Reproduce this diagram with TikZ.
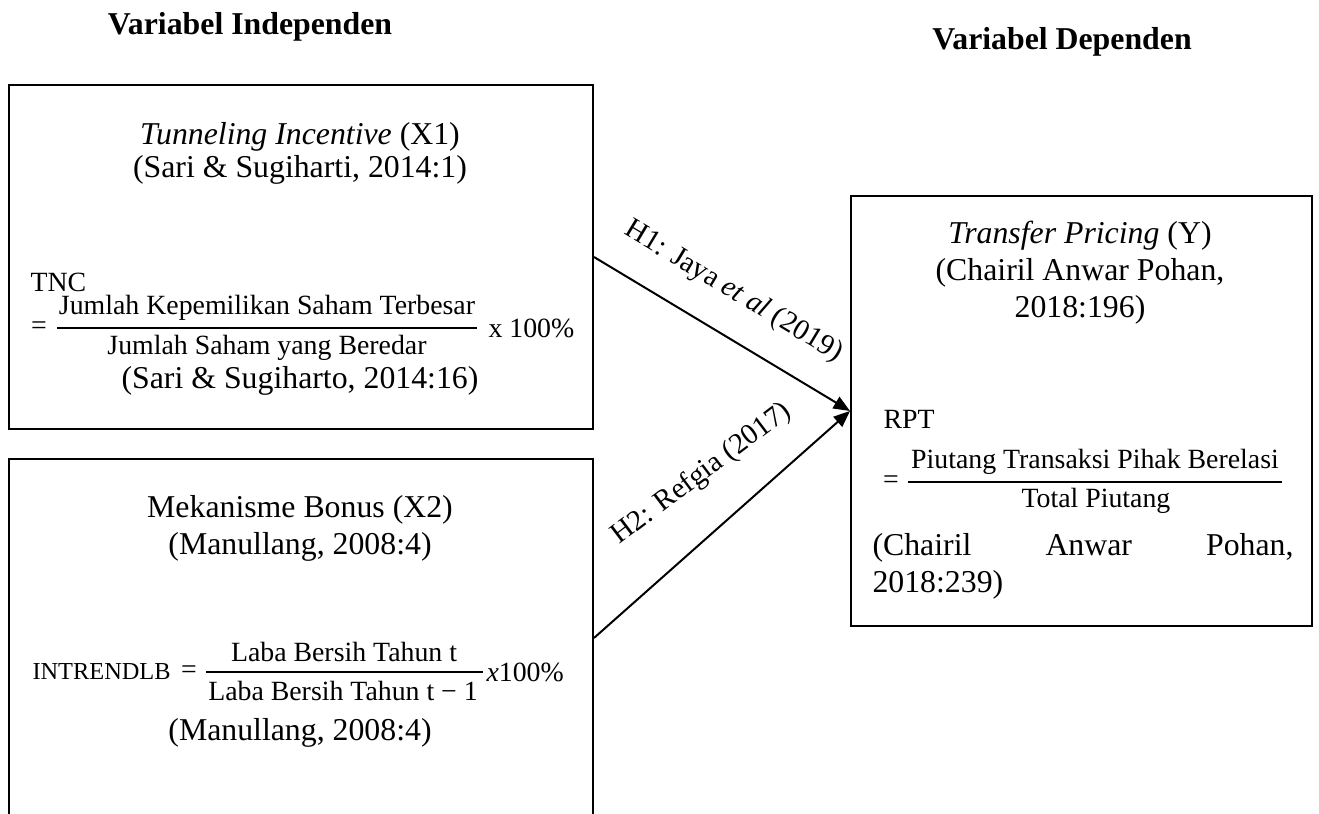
\documentclass[tikz,border=0pt]{standalone}
\usepackage{fontspec}
\setmainfont{Liberation Serif}
\usetikzlibrary{arrows.meta}
\begin{document}
\begin{tikzpicture}[x=0.3774pt,y=-0.3774pt,
  box/.style={draw, line width=0.75pt, inner sep=0pt, anchor=north west},
  txt/.style={inner sep=0pt, font=\fontsize{12}{13.8}\selectfont},
  eqt/.style={inner sep=0pt, font=\fontsize{10.5}{12.6}\selectfont},
  head/.style={inner sep=0pt, font=\fontsize{12}{13.8}\selectfont\bfseries},
  fracbar/.style={line width=0.7pt},
  hyp/.style={line width=0.75pt, -{Triangle[length=6.2pt,width=5pt]}},
  lab/.style={inner sep=0pt, font=\fontsize{11}{13}\selectfont}]
\useasboundingbox (0,0) rectangle (1319,814);
\clip (0,0) rectangle (1319,814);

% headers
\node[head] (hind) at (250,27) {Variabel Independen};
\node[head] (hdep) at (1062,42) {Variabel Dependen};

% boxes
\node[box, minimum width=584*0.3774pt, minimum height=344*0.3774pt] (b1) at (8,84) {};
\node[box, minimum width=584*0.3774pt, minimum height=358*0.3774pt] (b2) at (8,458) {};
\node[box, minimum width=461*0.3774pt, minimum height=430*0.3774pt] (b3) at (850,195) {};

% box 1 content
\node[txt] (t1a) at (300,137) {\textit{Tunneling Incentive} (X1)};
\node[txt] (t1b) at (300,170) {(Sari \& Sugiharti, 2014:1)};
\node[eqt, anchor=west] (tnc) at (30,282) {TNC};
\node[eqt] (eq1) at (39,328) {=};
\node[eqt] (n1) at (267,308) {Jumlah Kepemilikan Saham Terbesar};
\draw[fracbar] (57,328) -- (477,328);
\node[eqt] (d1) at (267,348) {Jumlah Saham yang Beredar};
\node[eqt, anchor=west] (p1) at (488,328) {x 100\%};
\node[txt] (t1c) at (300,381) {(Sari \& Sugiharto, 2014:16)};

% box 2 content
\node[eqt, anchor=west, font=\fontsize{9.2}{11}\selectfont] (intr) at (32,672) {INTRENDLB};
\node[eqt] (eq2) at (189,672) {=};
\node[txt] (t2a) at (300,510) {Mekanisme Bonus (X2)};
\node[txt] (t2b) at (300,547) {(Manullang, 2008:4)};
\node[eqt] (n2) at (344,652) {Laba Bersih Tahun t};
\draw[fracbar] (206,672) -- (483,672);
\node[eqt] (d2) at (343,691) {Laba Bersih Tahun t − 1};
\node[eqt, anchor=west] (p2) at (486,672) {\textit{x}100\%};
\node[txt] (t2c) at (300,733) {(Manullang, 2008:4)};

% box 3 content
\node[txt] (t3a) at (1080,236) {\textit{Transfer Pricing} (Y)};
\node[txt] (t3b) at (1080,273) {(Chairil Anwar Pohan,};
\node[txt] (t3c) at (1080,310) {2018:196)};
\node[eqt, anchor=west] (rpt) at (883,419) {RPT};
\node[eqt] (eq3) at (891,482) {=};
\node[eqt] (n3) at (1095,462) {Piutang Transaksi Pihak Berelasi};
\draw[fracbar] (908,482) -- (1282,482);
\node[eqt] (d3) at (1096,501) {Total Piutang};
\node[txt, anchor=west, text width=421*0.3774pt] (t3d) at (872,548) {(Chairil\hfill Anwar\hfill Pohan,};
\node[txt, anchor=west] (t3e) at (872,585) {2018:239)};

% hypotheses
\draw[hyp] (b1.east) -- node[lab, sloped, pos=0.46, above=10.5pt] (h1) {H1: Jaya \textit{et al} (2019)} (b3.west);
\draw[hyp] (b2.east) -- (b3.west);
\node[lab, rotate=37] (h2) at (702,474) {H2: Refgia (2017)};
\end{tikzpicture}
\end{document}
